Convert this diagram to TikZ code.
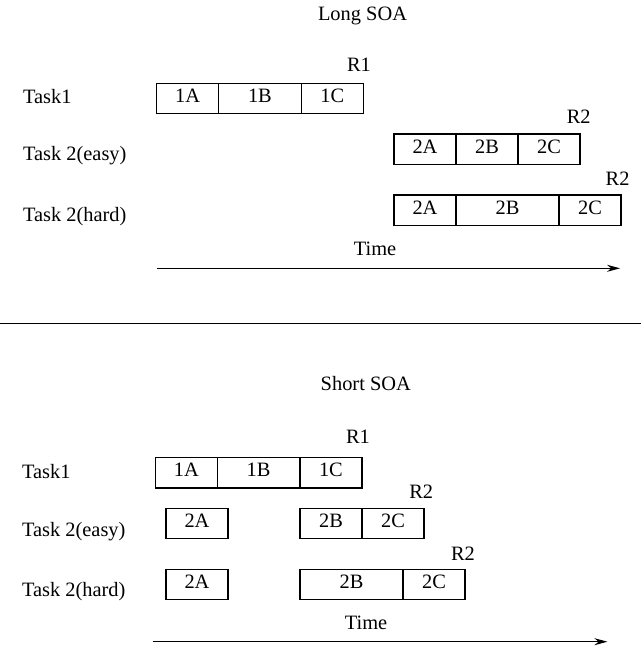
\documentclass[tikz,border=0pt]{standalone}
\usepackage{fontspec}
\setmainfont{Liberation Serif}
\usetikzlibrary{arrows.meta,positioning}

\begin{document}
\begin{tikzpicture}[x=0.5pt, y=-0.5pt,
    every node/.style={font=\fontsize{10.2}{12}\selectfont},
    cell/.style={draw, line width=0.6pt, inner sep=0pt, outer sep=0pt, text height=6.7pt, text depth=2.8pt,
        minimum width=31pt, minimum height=15.25pt},
    longcell/.style={cell, minimum width=41.3pt},
    hardcell/.style={cell, minimum width=51.5pt},
    tasklabel/.style={anchor=base west, inner sep=0pt},
    plain/.style={anchor=base, inner sep=0pt},
    timeline/.style={line width=0.6pt, -{Stealth[length=6.5pt, width=3.5pt]}}]
    \useasboundingbox (0,0) rectangle (641,647);

    % long SOA
    \node[plain] (longtitle) at (362.5,20.7) {Long SOA};
    \node[tasklabel] (ltask1) at (22.7,104) {Task1};
    \node[tasklabel] (leasy) at (22.7,160) {Task 2(easy)};
    \node[tasklabel] (lhard) at (22.7,221.7) {Task 2(hard)};

    \node[cell, anchor=north west] (l1a) at (156.6,83.3) {1A};
    \node[longcell, right=0pt of l1a] (l1b) {1B};
    \node[cell, right=0pt of l1b] (l1c) {1C};
    \node[plain] (lr1) at (359,71.7) {R1};

    \node[cell, anchor=north west] (le2a) at (394,134) {2A};
    \node[cell, right=0pt of le2a] (le2b) {2B};
    \node[cell, right=0pt of le2b] (le2c) {2C};
    \node[plain] (ler2) at (578.7,124) {R2};

    \node[cell, anchor=north west] (lh2a) at (394,195) {2A};
    \node[hardcell, right=0pt of lh2a] (lh2b) {2B};
    \node[cell, right=0pt of lh2b] (lh2c) {2C};
    \node[plain] (lhr2) at (617.6,185.7) {R2};

    \node[plain] (ltime) at (375,255.7) {Time};
    \coordinate (lstart) at (157,268.3);
    \coordinate (lend) at (620,268.3);
    \draw[timeline] (lstart) -- (lend);

    % separator
    \coordinate (sepleft) at (0,323.3);
    \coordinate (sepright) at (641,323.3);
    \draw[line width=0.7pt] (sepleft) -- (sepright);

    % short SOA
    \node[plain] (shorttitle) at (365.8,390.7) {Short SOA};
    \node[tasklabel] (stask1) at (21.7,478.3) {Task1};
    \node[tasklabel] (seasy) at (21.7,536) {Task 2(easy)};
    \node[tasklabel] (shard) at (21.7,596.7) {Task 2(hard)};

    \node[cell, anchor=north west] (s1a) at (155.3,457.5) {1A};
    \node[longcell, right=0pt of s1a] (s1b) {1B};
    \node[cell, right=0pt of s1b] (s1c) {1C};
    \node[plain] (sr1) at (358,443.3) {R1};

    \node[cell, anchor=north west] (se2a) at (166,508.3) {2A};
    \node[cell, anchor=north west] (se2b) at (300,508.3) {2B};
    \node[cell, right=0pt of se2b] (se2c) {2C};
    \node[plain] (ser2) at (421.2,498.5) {R2};

    \node[cell, anchor=north west] (sh2a) at (166,569.3) {2A};
    \node[hardcell, anchor=north west] (sh2b) at (300,569.3) {2B};
    \node[cell, right=0pt of sh2b] (sh2c) {2C};
    \node[plain] (shr2) at (463,560) {R2};

    \node[plain] (stime) at (366,629) {Time};
    \coordinate (sstart) at (152.6,641.7);
    \coordinate (send) at (607.4,641.7);
    \draw[timeline] (sstart) -- (send);
\end{tikzpicture}
\end{document}
